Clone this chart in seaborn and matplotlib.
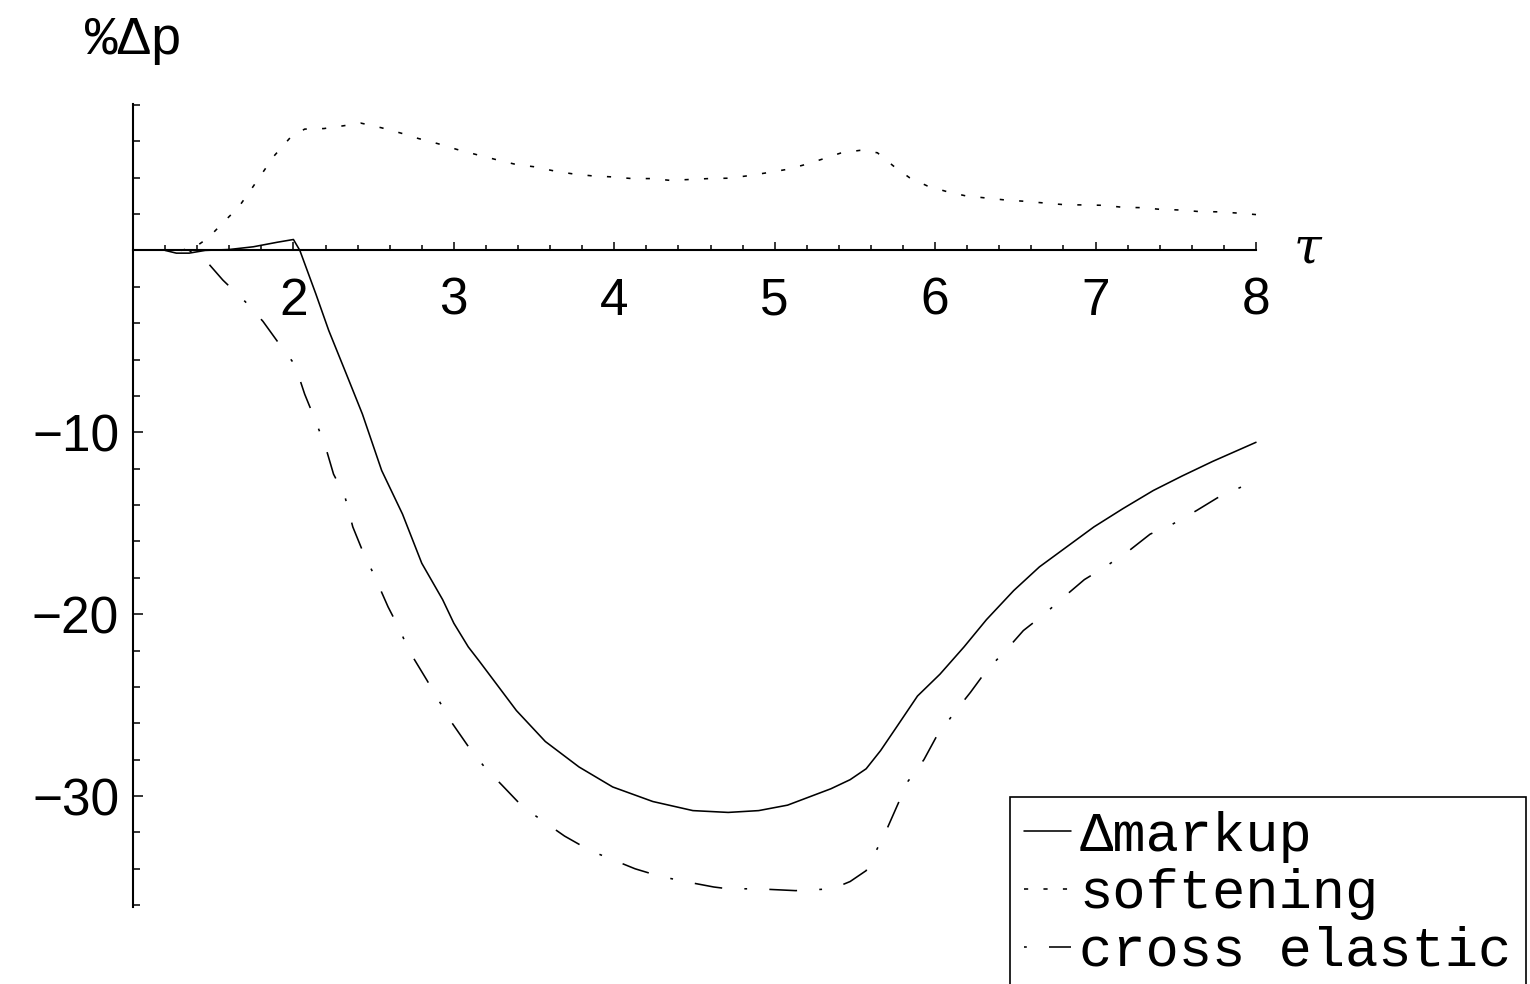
import numpy as np
import pandas as pd
import matplotlib
matplotlib.use("Agg")
import matplotlib.pyplot as plt
from matplotlib.ticker import FixedLocator
import seaborn as sns

# ---- data: percentage price change against tau ----
markup_tau = [1.2, 1.27, 1.35, 1.45, 1.6, 1.75, 1.9, 2.0, 2.04, 2.14, 2.22, 2.33, 2.43,
              2.55, 2.68, 2.80, 2.93, 3.0, 3.09, 3.16, 3.39, 3.57, 3.78, 3.99, 4.24,
              4.49, 4.71, 4.90, 5.08, 5.35, 5.47, 5.57, 5.66, 5.76, 5.89, 6.03, 6.18,
              6.32, 6.49, 6.65, 6.82, 6.99, 7.17, 7.36, 7.54, 7.73, 8.0]
markup_dp = [0.0, -0.15, -0.15, 0.0, 0.05, 0.2, 0.45, 0.6, 0.0, -2.4, -4.4, -6.8, -9.0,
             -12.1, -14.5, -17.2, -19.2, -20.5, -21.8, -22.6, -25.3, -27.0, -28.4, -29.5,
             -30.3, -30.8, -30.9, -30.8, -30.5, -29.6, -29.1, -28.5, -27.5, -26.2, -24.5,
             -23.3, -21.8, -20.3, -18.7, -17.4, -16.3, -15.2, -14.2, -13.2, -12.4, -11.6,
             -10.55]

soft_tau = [1.3, 1.39, 1.47, 1.57, 1.66, 1.74, 1.88, 1.98, 2.07, 2.19, 2.31, 2.42, 2.55,
            2.67, 2.78, 2.90, 3.02, 3.14, 3.26, 3.39, 3.50, 3.63, 3.74, 3.86, 3.99, 4.11,
            4.23, 4.35, 4.47, 4.59, 4.71, 4.83, 4.96, 5.08, 5.19, 5.29, 5.41, 5.53, 5.64,
            5.74, 5.84, 5.95, 6.07, 6.19, 6.32, 6.44, 6.56, 6.69, 6.81, 6.93, 7.05, 7.17,
            7.29, 7.40, 7.53, 7.64, 7.77, 7.89, 8.0]
soft_dp = [0.0, 0.2, 0.7, 1.6, 2.4, 3.4, 5.2, 6.2, 6.67, 6.7, 6.85, 7.0, 6.74, 6.45, 6.15,
           5.87, 5.55, 5.27, 5.0, 4.72, 4.6, 4.36, 4.21, 4.1, 4.04, 3.95, 3.95, 3.85, 3.9,
           3.95, 3.97, 4.1, 4.28, 4.46, 4.72, 5.0, 5.35, 5.5, 5.37, 4.64, 4.0, 3.55, 3.24,
           3.0, 2.88, 2.77, 2.7, 2.6, 2.51, 2.5, 2.48, 2.37, 2.35, 2.26, 2.22, 2.14, 2.12,
           2.05, 1.97]

cross_tau = [1.35, 1.46, 1.56, 1.70, 1.81, 1.90, 2.01, 2.07, 2.13, 2.20, 2.25, 2.32, 2.37,
             2.43, 2.50, 2.59, 2.66, 2.72, 2.83, 2.91, 2.99, 3.10, 3.20, 3.30, 3.43, 3.56,
             3.69, 3.85, 3.99, 4.13, 4.28, 4.44, 4.62, 4.71, 4.89, 5.13, 5.36, 5.47, 5.57,
             5.69, 5.76, 5.83, 5.93, 6.01, 6.13, 6.22, 6.32, 6.45, 6.55, 6.68, 6.81, 6.93,
             7.06, 7.21, 7.34, 7.47, 7.63, 7.76, 7.91, 8.0]
cross_dp = [0.0, -0.62, -1.63, -2.82, -3.9, -5.0, -6.3, -7.9, -9.2, -10.8, -12.3, -13.5,
            -15.2, -16.5, -17.8, -19.6, -20.8, -22.0, -23.6, -24.8, -26.0, -27.4, -28.5,
            -29.4, -30.6, -31.4, -32.2, -33.0, -33.5, -34.0, -34.4, -34.7, -35.0, -35.1,
            -35.1, -35.2, -35.1, -34.7, -34.1, -32.0, -30.6, -29.2, -28.0, -26.7, -25.3,
            -24.3, -23.1, -21.9, -20.9, -20.0, -19.0, -18.1, -17.4, -16.5, -15.6, -15.1,
            -14.3, -13.6, -13.0, -12.6]

series_labels = ["\u0394markup", "softening", "cross elastic"]
x_ticklabels = ["2", "3", "4", "5", "6", "7", "8"]
y_ticklabels = ["\u221230", "\u221220", "\u221210"]

# ---- style ----
sns.set_theme(style="white")
plt.rcParams["font.family"] = ["Liberation Sans", "DejaVu Sans"]
plt.rcParams["lines.scale_dashes"] = False
plt.rcParams["text.color"] = "black"
plt.rcParams["xtick.color"] = "black"
plt.rcParams["ytick.color"] = "black"
plt.rcParams["xtick.labelcolor"] = "black"
plt.rcParams["ytick.labelcolor"] = "black"

fig = plt.figure(figsize=(15.3, 9.84), dpi=100)
ax = fig.add_axes([133 / 1530, 1 - 907 / 984, (1256 - 133) / 1530, (907 - 104) / 984])
ax.set_facecolor("white")

lw = 1.15
styles = ["-", (0, (3, 11)), (36, (20, 16, 2, 16))]
frames = [(markup_tau, markup_dp), (soft_tau, soft_dp), (cross_tau, cross_dp)]
for (tx, dy), ls, lab in zip(frames, styles, series_labels):
    df = pd.DataFrame({"tau": tx, "dp": dy})
    sns.lineplot(data=df, x="tau", y="dp", ax=ax, color="black", lw=lw,
                 linestyle=ls, label=lab, sort=False, estimator=None)
for ln in ax.get_lines():
    ln.set_clip_on(False)

ax.set_xlim(1, 8)
ax.set_ylim(-36.1, 8.05)

# axes crossing at the origin line
for side in ["top", "right"]:
    ax.spines[side].set_visible(False)
ax.spines["bottom"].set_position(("data", 0))
for side in ["left", "bottom"]:
    ax.spines[side].set_color("black")
    ax.spines[side].set_linewidth(1.5)

ax.xaxis.set_major_locator(FixedLocator([2, 3, 4, 5, 6, 7, 8]))
ax.xaxis.set_minor_locator(FixedLocator([1 + 0.2 * i for i in range(1, 36)]))
ax.set_xticklabels(x_ticklabels)
ax.yaxis.set_major_locator(FixedLocator([-30, -20, -10]))
ax.yaxis.set_minor_locator(FixedLocator([v for v in range(-36, 9, 2) if v not in (-30, -20, -10, 0)]))
ax.set_yticklabels(y_ticklabels)

ax.tick_params(axis="x", which="major", direction="in", length=6, width=1.1,
               color="black", labelsize=37, labelcolor="black", pad=19, bottom=True)
ax.tick_params(axis="x", which="minor", direction="in", length=3.5, width=1.1,
               color="black", bottom=True)
ax.tick_params(axis="y", which="major", direction="in", length=7, width=1.1,
               color="black", labelsize=37, labelcolor="black", pad=10, left=True)
ax.tick_params(axis="y", which="minor", direction="in", length=5, width=1.1,
               color="black", left=True)
ax.set_xlabel("")
ax.set_ylabel("")

# axis titles
fig.text(134 / 1530, 1 - 40 / 984, "%\u0394p", family=["Liberation Mono", "DejaVu Sans Mono"],
         fontsize=39, color="black", ha="center", va="center")
ax.text(8.32, 0.1, "\u03c4", family=["DejaVu Serif"], style="italic", fontsize=36,
        color="black", ha="center", va="center", clip_on=False)

leg = ax.legend(loc="upper left", bbox_to_anchor=(1010 / 1530, 1 - 797 / 984),
                bbox_transform=fig.transFigure, frameon=True, fancybox=False,
                framealpha=1, edgecolor="black", borderpad=0.25, borderaxespad=0,
                handlelength=0.85, handletextpad=0.15, labelspacing=0.1,
                prop={"family": ["Liberation Mono", "DejaVu Sans Mono"], "size": 40})
leg.get_frame().set_linewidth(1.2)
for t in leg.get_texts():
    t.set_color("black")

fig.savefig("out.png", dpi=100, facecolor="white")
